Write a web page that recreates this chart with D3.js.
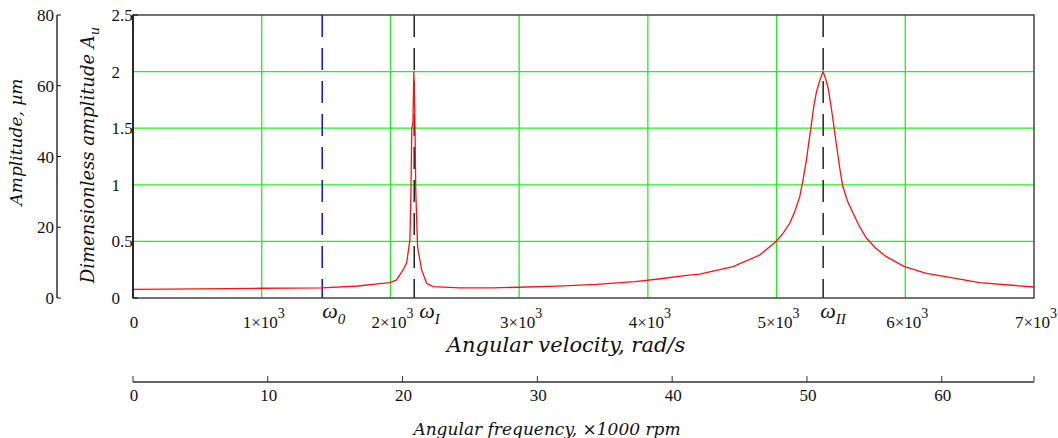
<!DOCTYPE html>
<html>
<head>
<meta charset="utf-8">
<script src="https://cdn.jsdelivr.net/npm/d3@7"></script>
<style>
  body { margin: 0; background: #fff; }
  text { font-family: "Liberation Serif", serif; fill: #111; }
  .title { font-family: "DejaVu Serif", serif; font-style: italic; font-size: 17px; }
</style>
</head>
<body>
<svg id="chart" width="1058" height="438"></svg>
<script>
// angular velocity, rad/s  ->  dimensionless amplitude A_u
const omega = [0, 500, 1000, 1470, 1750, 1900, 1996, 2048, 2099, 2126, 2151, 2159, 2166, 2175, 2182,
  2190, 2197, 2211, 2242, 2281, 2330, 2540, 2800, 3000, 3300, 3600, 3900, 4100, 4300, 4403,
  4662, 4869, 4994, 5050, 5102, 5140, 5180, 5205, 5232, 5250, 5271, 5290, 5310, 5335, 5356, 5361,
  5380, 5400, 5420, 5439, 5458, 5478, 5497, 5516, 5550, 5594, 5640, 5698, 5770, 5853, 5993,
  6164, 6345, 6578, 7000];
const amp = [0.077, 0.08, 0.086, 0.09, 0.106, 0.124, 0.135, 0.16, 0.25, 0.31, 0.51, 0.91, 1.5, 1.55, 2.0,
  1.6, 0.94, 0.45, 0.25, 0.13, 0.1, 0.09, 0.09, 0.095, 0.105, 0.12, 0.145, 0.17, 0.2, 0.21,
  0.277, 0.38, 0.497, 0.57, 0.66, 0.76, 0.895, 1.04, 1.22, 1.37, 1.54, 1.7, 1.82, 1.92, 1.985, 2.0,
  1.94, 1.86, 1.72, 1.57, 1.41, 1.25, 1.1, 0.98, 0.86, 0.75, 0.64, 0.53, 0.44, 0.365, 0.277,
  0.218, 0.183, 0.135, 0.097];

// critical speeds
const markers = [
  { name: "ω", sub: "0", value: 1470, color: "#1010e0" },
  { name: "ω", sub: "I", value: 2185, color: "#222" },
  { name: "ω", sub: "II", value: 5362, color: "#222" }
];

const xTicks = [0, 1000, 2000, 3000, 4000, 5000, 6000, 7000];
const yTicks = [0, 0.5, 1, 1.5, 2, 2.5];
const ampTicks = [0, 20, 40, 60, 80];
const rpmTicks = [0, 10, 20, 30, 40, 50, 60];
const gridX = [1000, 2000, 3000, 4000, 5000, 6000];
const gridY = [0.5, 1, 1.5, 2];

const svg = d3.select("#chart");
const plot = { left: 133, right: 1034, top: 15, bottom: 298 };

const x = d3.scaleLinear([0, 7000], [plot.left, plot.right]);
const y = d3.scaleLinear([0, 2.5], [plot.bottom, plot.top]);
const yAmp = d3.scaleLinear([0, 80], [plot.bottom, plot.top]);
const xRpm = d3.scaleLinear([0, 7000 * 60 / (2 * Math.PI) / 1000], [plot.left, plot.right]);

// grid
svg.append("g").selectAll("line").data(gridX).join("line")
  .attr("x1", d => x(d)).attr("x2", d => x(d))
  .attr("y1", plot.top).attr("y2", plot.bottom)
  .attr("stroke", "#22ee22").attr("stroke-width", 1.3);
svg.append("g").selectAll("line").data(gridY).join("line")
  .attr("x1", plot.left).attr("x2", plot.right)
  .attr("y1", d => y(d)).attr("y2", d => y(d))
  .attr("stroke", "#22ee22").attr("stroke-width", 1.3);

// dashed markers
svg.append("g").selectAll("line").data(markers).join("line")
  .attr("x1", d => x(d.value)).attr("x2", d => x(d.value))
  .attr("y1", plot.top).attr("y2", plot.bottom)
  .attr("stroke", d => d.color).attr("stroke-width", 1.5)
  .attr("stroke-dasharray", "22,11");

// response curve
const line = d3.line().x((d, i) => x(omega[i])).y(d => y(d));
svg.append("path").datum(amp)
  .attr("fill", "none").attr("stroke", "#ff1010").attr("stroke-width", 1.3)
  .attr("d", line);

// frame
svg.append("rect")
  .attr("x", plot.left).attr("y", plot.top)
  .attr("width", plot.right - plot.left).attr("height", plot.bottom - plot.top)
  .attr("fill", "none").attr("stroke", "#444").attr("stroke-width", 1.5);
svg.append("line").attr("x1", plot.left).attr("x2", plot.left)
  .attr("y1", plot.top).attr("y2", plot.bottom).attr("stroke", "#111").attr("stroke-width", 1.5);

// dimensionless axis labels (aligned on the decimal point)
const yl = svg.append("g").style("font-size", "17px");
yTicks.forEach(t => {
  const s = String(t).split(".");
  yl.append("text").attr("x", 120).attr("y", y(t) + 6).attr("text-anchor", "end").text(s[0]);
  if (s[1]) yl.append("text").attr("x", 120).attr("y", y(t) + 6).text("." + s[1]);
});
svg.append("g").selectAll("line").data([0, 2.5]).join("line")
  .attr("x1", plot.left).attr("x2", plot.left + 5)
  .attr("y1", d => y(d)).attr("y2", d => y(d)).attr("stroke", "#111");

// amplitude axis (µm)
const ampAxis = svg.append("g").attr("transform", "translate(57,0)");
ampAxis.append("line").attr("y1", plot.top).attr("y2", plot.bottom).attr("stroke", "#111").attr("stroke-width", 1.3);
ampAxis.selectAll("line.t").data(ampTicks).join("line").attr("class", "t")
  .attr("x1", 0).attr("x2", 4).attr("y1", d => yAmp(d)).attr("y2", d => yAmp(d)).attr("stroke", "#111");
ampAxis.selectAll("text").data(ampTicks).join("text")
  .attr("x", -3).attr("y", d => yAmp(d) + 6).attr("text-anchor", "end")
  .style("font-size", "17px").text(d => d);

// velocity tick labels
const xl = svg.append("g").style("font-size", "17px");
xTicks.forEach(t => {
  const tx = xl.append("text").attr("x", x(t) + (t === 0 ? 1 : 2)).attr("y", 328).attr("text-anchor", "middle");
  if (t === 0) { tx.text("0"); return; }
  tx.append("tspan").text((t / 1000) + "×10");
  tx.append("tspan").attr("dy", -10).style("font-size", "14px").text("3");
});

// marker labels
const subDx = [0, 5, -3];
markers.forEach((m, i) => {
  const t = svg.append("text").attr("x", x(m.value) + subDx[i]).attr("y", 318)
    .style("font-style", "italic").style("font-size", "22px");
  t.append("tspan").text(m.name);
  t.append("tspan").attr("dy", 6).style("font-size", "15px").text(m.sub);
});

// rpm axis
const rpmAxis = svg.append("g").attr("transform", "translate(0,382)");
rpmAxis.append("line").attr("x1", plot.left).attr("x2", plot.right).attr("stroke", "#333").attr("stroke-width", 1.3);
rpmAxis.selectAll("line.t").data(rpmTicks.concat([xRpm.domain()[1]])).join("line").attr("class", "t")
  .attr("x1", d => xRpm(d)).attr("x2", d => xRpm(d)).attr("y1", 0).attr("y2", -6).attr("stroke", "#333");
rpmAxis.selectAll("text").data(rpmTicks).join("text")
  .attr("x", d => xRpm(d) + 1).attr("y", 19).attr("text-anchor", "middle")
  .style("font-size", "17px").text(d => d);

// titles
svg.append("text").attr("class", "title").attr("x", 566).attr("y", 352)
  .attr("text-anchor", "middle").style("font-size", "21px").text("Angular velocity, rad/s");
svg.append("text").attr("class", "title").attr("x", 547).attr("y", 435)
  .attr("text-anchor", "middle").text("Angular frequency, ×1000 rpm");

const yt = svg.append("text").attr("class", "title").style("font-size", "18px")
  .attr("transform", "translate(94,155) rotate(-90)").attr("text-anchor", "middle");
yt.append("tspan").text("Dimensionless amplitude A");
yt.append("tspan").attr("dy", 5).style("font-size", "13px").text("u");

svg.append("text").attr("class", "title")
  .attr("transform", "translate(22,142) rotate(-90)").attr("text-anchor", "middle")
  .text("Amplitude, µm");
</script>
</body>
</html>
